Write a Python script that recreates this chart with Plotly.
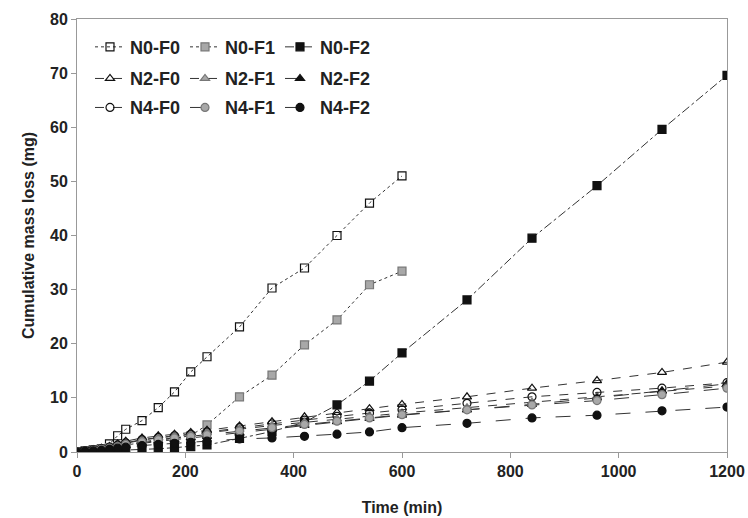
import plotly.graph_objects as go

# ---- data ----
times = [0, 15, 30, 45, 60, 75, 90, 120, 150, 180, 210, 240, 300, 360, 420, 480, 540, 600, 720, 840, 960, 1080, 1200]
times_short = times[:18]

n0_f0 = [0, 0.2, 0.4, 0.6, 1.5, 3.0, 4.2, 5.8, 8.2, 11.1, 14.8, 17.6, 23.1, 30.3, 34.0, 40.0, 46.0, 51.0]
n0_f1 = [0, 0.1, 0.3, 0.5, 0.8, 1.0, 1.3, 1.7, 2.1, 2.5, 3.0, 5.0, 10.2, 14.2, 19.8, 24.4, 30.9, 33.4]
n0_f2 = [0, 0.05, 0.1, 0.15, 0.2, 0.25, 0.3, 0.5, 0.6, 0.8, 1.0, 1.3, 2.5, 3.8, 5.5, 8.7, 13.1, 18.3, 28.1, 39.5, 49.2, 59.6, 69.6]
n2_f0 = [0, 0.2, 0.4, 0.7, 1.0, 1.5, 2.0, 2.6, 3.0, 3.3, 3.6, 4.0, 4.8, 5.6, 6.5, 7.3, 8.0, 8.8, 10.2, 11.8, 13.2, 14.7, 16.6]
n2_f1 = [0, 0.1, 0.3, 0.5, 0.8, 1.2, 1.6, 2.2, 2.6, 2.9, 3.2, 3.6, 4.2, 4.9, 5.5, 6.1, 6.6, 7.2, 8.2, 9.2, 10.3, 11.2, 12.2]
n2_f2 = [0, 0.1, 0.2, 0.4, 0.6, 0.9, 1.2, 1.6, 2.0, 2.3, 2.6, 2.9, 3.5, 4.2, 4.9, 5.6, 6.2, 6.8, 7.8, 8.8, 10.0, 11.3, 12.6]
n4_f0 = [0, 0.2, 0.4, 0.6, 0.9, 1.3, 1.7, 2.3, 2.7, 3.0, 3.3, 3.7, 4.5, 5.2, 5.9, 6.6, 7.2, 7.8, 9.0, 10.2, 11.0, 11.8, 12.8]
n4_f1 = [0, 0.1, 0.3, 0.5, 0.7, 1.0, 1.4, 1.9, 2.3, 2.6, 2.9, 3.2, 3.9, 4.5, 5.1, 5.7, 6.3, 6.9, 7.8, 8.7, 9.5, 10.6, 11.8]
n4_f2 = [0, 0.1, 0.2, 0.3, 0.5, 0.7, 0.9, 1.2, 1.4, 1.6, 1.8, 2.0, 2.4, 2.6, 2.9, 3.3, 3.7, 4.5, 5.3, 6.3, 6.8, 7.6, 8.3]

x_ticks = [0, 200, 400, 600, 800, 1000, 1200]
y_ticks = [0, 10, 20, 30, 40, 50, 60, 70, 80]

GRAY = "#a8a8a8"
BLACK = "#111111"

series = [
    # name, x, y, symbol, fill, dash, legend
    ("N0-F0", times_short, n0_f0, "square-open", BLACK, "dot", "legend"),
    ("N0-F1", times_short, n0_f1, "square", GRAY, "dot", "legend"),
    ("N0-F2", times, n0_f2, "square", BLACK, "dashdot", "legend"),
    ("N2-F0", times, n2_f0, "triangle-up-open", BLACK, "dash", "legend2"),
    ("N2-F1", times, n2_f1, "triangle-up", GRAY, "dash", "legend2"),
    ("N2-F2", times, n2_f2, "triangle-up", BLACK, "longdash", "legend2"),
    ("N4-F0", times, n4_f0, "circle-open", BLACK, "dash", "legend3"),
    ("N4-F1", times, n4_f1, "circle", GRAY, "longdash", "legend3"),
    ("N4-F2", times, n4_f2, "circle", BLACK, "longdash", "legend3"),
]

fig = go.Figure()
for name, xs, ys, sym, col, dash, leg in series:
    fig.add_trace(go.Scatter(
        x=xs, y=ys, name=name, mode="lines+markers",
        line=dict(color="#333333", width=1, dash=dash),
        marker=dict(symbol=sym, size=8, color=col,
                    line=dict(color=BLACK if col == BLACK else "#777777", width=1.2)),
        legend=leg,
    ))

font = dict(family="Liberation Sans, Arial, sans-serif", size=16, color="#222222")
legend_common = dict(
    orientation="h", x=0.02, xanchor="left", yanchor="middle",
    bgcolor="rgba(0,0,0,0)", itemwidth=30,
    entrywidth=50, entrywidthmode="pixels",
    font=dict(family="Liberation Sans, Arial, sans-serif", size=18, color="#222222", weight="bold"),
    tracegroupgap=0,
)

fig.update_layout(
    width=748, height=518,
    margin=dict(l=77, r=21, t=19, b=66, autoexpand=False),
    plot_bgcolor="white", paper_bgcolor="white",
    font=font,
    showlegend=True,
    legend=dict(y=0.935, **legend_common),
    legend2=dict(y=0.862, **legend_common),
    legend3=dict(y=0.795, **legend_common),
    xaxis=dict(
        title=dict(text="<b>Time (min)</b>", font=dict(size=16), standoff=22),
        range=[0, 1200], tickvals=x_ticks,
        ticktext=[f"<b>{v}</b>" for v in x_ticks],
        showgrid=False, zeroline=False, automargin=False,
        showline=True, linecolor="#999999", linewidth=1, mirror=True,
        ticks="outside", ticklen=5, tickcolor="#999999",
        tickfont=dict(size=16),
    ),
    yaxis=dict(
        title=dict(text="<b>Cumulative mass loss (mg)</b>", font=dict(size=16), standoff=11),
        range=[0, 80], tickvals=y_ticks,
        ticktext=[f"<b>{v}</b>" for v in y_ticks],
        showgrid=False, zeroline=False, automargin=False,
        showline=True, linecolor="#999999", linewidth=1, mirror=True,
        ticks="outside", ticklen=5, tickcolor="#999999",
        tickfont=dict(size=16),
    ),
)

fig.write_html(
    "out.html",
    config={"displayModeBar": False},
    post_script="document.body.style.margin='0';document.body.style.overflow='hidden';",
)
